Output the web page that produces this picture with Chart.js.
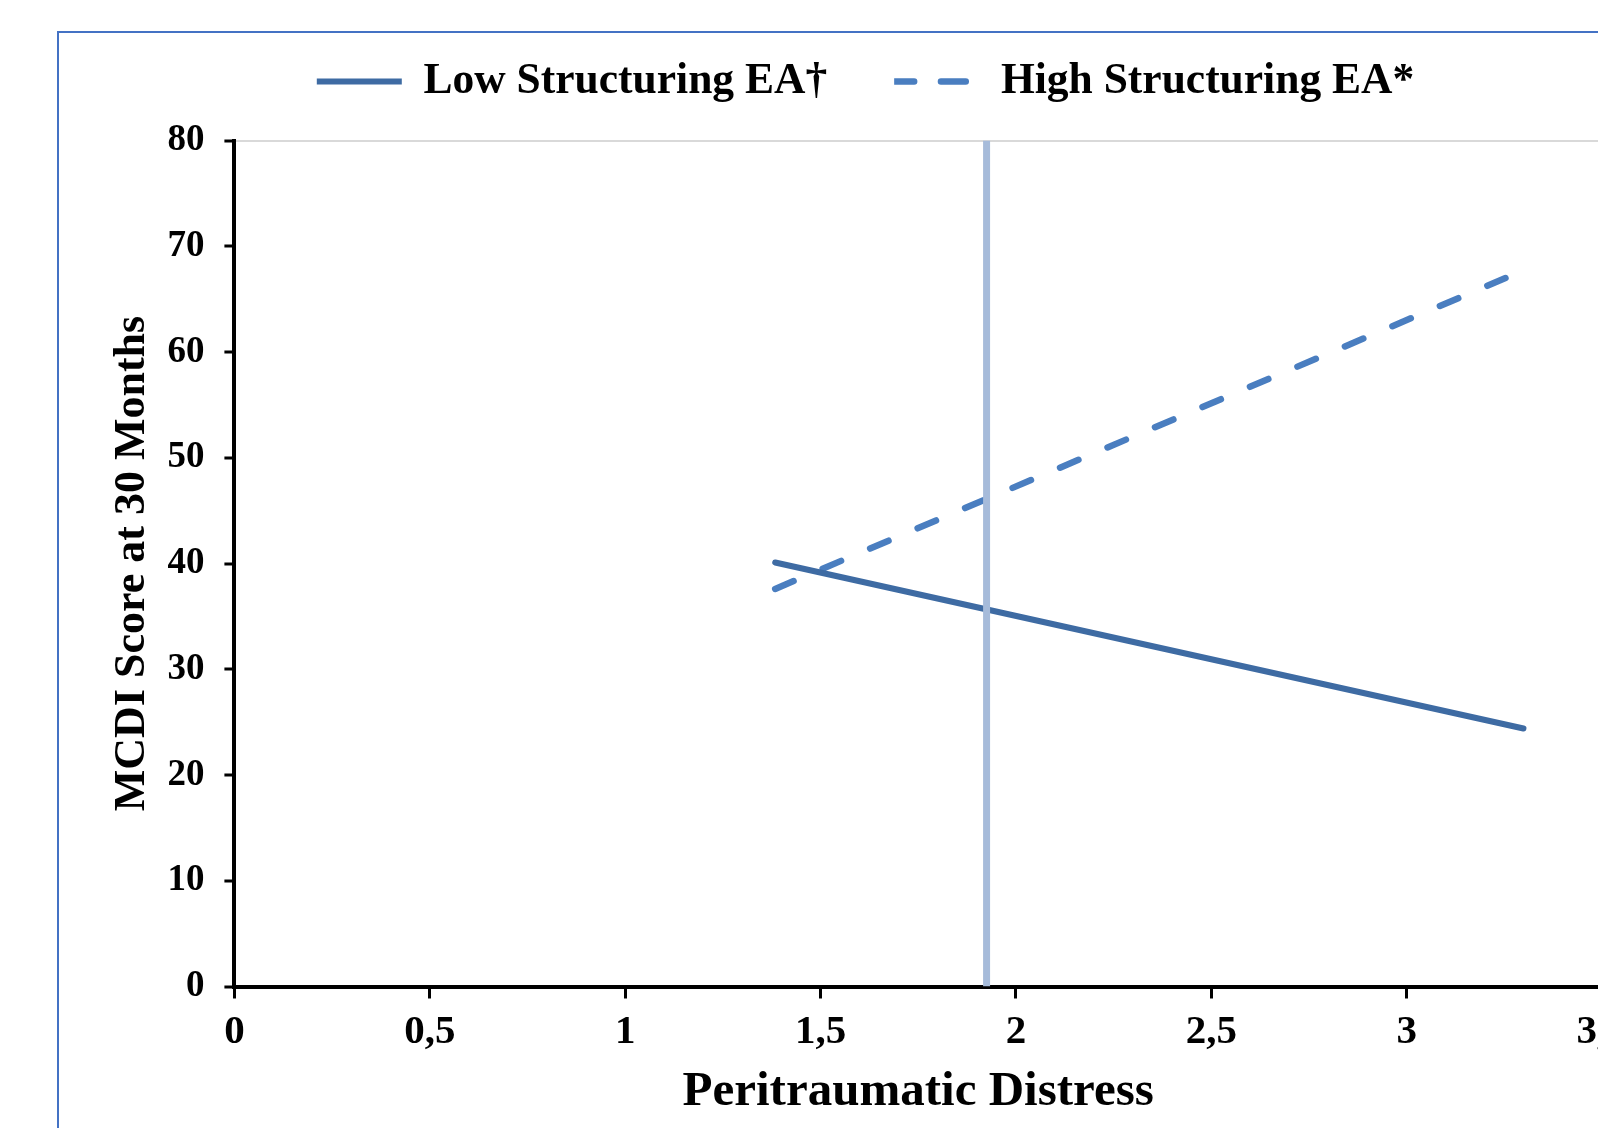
<!DOCTYPE html>
<html>
<head>
<meta charset="utf-8">
<script src="https://cdn.jsdelivr.net/npm/chart.js@4.4.1/dist/chart.umd.min.js"></script>
<style>
  html, body { margin: 0; padding: 0; background: #fff; overflow: hidden; }
  #frame {
    position: absolute; left: 57px; top: 31px;
    width: 1700px; height: 1200px;
    border: 2px solid #4472C4;
  }
  /* canvas starts 40px above the page so the legend can sit higher than its padding allows */
  #chartBox { position: absolute; left: 0; top: -40px; width: 1731px; height: 1168px; }
</style>
</head>
<body>
<div id="frame"></div>
<div id="chartBox"><canvas id="myChart" width="1731" height="1168"></canvas></div>
<script>
// chart values
const seriesNames = ["Low Structuring EA\u2020", "High Structuring EA*"];
const lowX = [1.384, 3.299];
const lowY = [40.1, 24.4];
const highX = [1.384, 3.253];
const highY = [37.6, 67.0];
const cutX = [1.925, 1.925];   // vertical marker line
const cutY = [0, 80];
const xTickVals = [0, 0.5, 1, 1.5, 2, 2.5, 3, 3.5];
const xTickLabels = ["0", "0,5", "1", "1,5", "2", "2,5", "3", "3,5"];
const yTickVals = [0, 10, 20, 30, 40, 50, 60, 70, 80];

const serif = "'Liberation Serif', 'Times New Roman', serif";

function points(xs, ys) {
    return xs.map((x, i) => ({ x: x, y: ys[i] }));
}

// scale that only takes up room in the layout
function spacer(position, size) {
    return {
        type: "linear",
        position: position,
        display: true,
        grid: { display: false },
        border: { display: false },
        ticks: { display: false },
        afterFit: (s) => {
            if (position === "top") s.height = size;
            else s.width = size;
        }
    };
}

function init() {
    const canvas = document.getElementById("myChart");

    new Chart(canvas, {
        type: "line",
        data: {
            datasets: [
                {
                    label: seriesNames[0],
                    data: points(lowX, lowY),
                    borderColor: "#3E6BA3",
                    backgroundColor: "#3E6BA3",
                    borderWidth: 6,
                    borderCapStyle: "round",
                    pointRadius: 0,
                    order: 1
                },
                {
                    label: seriesNames[1],
                    data: points(highX, highY),
                    borderColor: "#4A7EC0",
                    backgroundColor: "#4A7EC0",
                    borderWidth: 6.5,
                    borderDash: [20, 31.6],
                    borderCapStyle: "round",
                    pointRadius: 0,
                    order: 2
                },
                {
                    label: "cut",
                    data: points(cutX, cutY),
                    borderColor: "#A6BBDA",
                    borderWidth: 7,
                    pointRadius: 0,
                    order: 0
                }
            ]
        },
        options: {
            responsive: false,
            animation: false,
            layout: { padding: { top: 32.75, left: 0, right: 0, bottom: 0 } },
            plugins: {
                tooltip: { enabled: false },
                legend: {
                    position: "top",
                    labels: {
                        boxWidth: 85,
                        boxHeight: 0,
                        padding: 67,
                        color: "#000",
                        font: { family: serif, size: 43.5, weight: "bold" },
                        filter: (item) => item.text !== "cut"
                    }
                }
            },
            scales: {
                x: {
                    type: "linear",
                    min: 0,
                    max: 3.5,
                    afterBuildTicks: (s) => { s.ticks = xTickVals.map(v => ({ value: v })); },
                    afterFit: (s) => { s.height = 141.5; },
                    border: { display: true, color: "#000", width: 4 },
                    grid: { drawOnChartArea: false, tickLength: 12, tickColor: "#000", tickWidth: 3 },
                    ticks: {
                        color: "#000",
                        padding: 9,
                        maxRotation: 0,
                        autoSkip: false,
                        font: { family: serif, size: 41, weight: "bold" },
                        callback: (v) => xTickLabels[xTickVals.indexOf(v)]
                    },
                    title: {
                        display: true,
                        text: "Peritraumatic Distress",
                        color: "#000",
                        padding: { top: 0, bottom: 6 },
                        font: { family: serif, size: 49, weight: "bold" }
                    }
                },
                y: {
                    type: "linear",
                    min: 0,
                    max: 80,
                    afterBuildTicks: (s) => { s.ticks = yTickVals.map(v => ({ value: v })); },
                    afterFit: (s) => { s.width = 234.4; },
                    border: { display: true, color: "#000", width: 4 },
                    grid: {
                        drawOnChartArea: true,
                        color: (c) => (c.tick && c.tick.value === 80 ? "#D9D9D9" : "rgba(0,0,0,0)"),
                        lineWidth: 2,
                        tickLength: 10,
                        tickColor: "#000",
                        tickWidth: 3
                    },
                    ticks: {
                        color: "#000",
                        padding: 20,
                        font: { family: serif, size: 37, weight: "bold" }
                    },
                    title: {
                        display: true,
                        text: "MCDI Score at 30 Months",
                        color: "#000",
                        padding: { top: 106, bottom: 0 },
                        font: { family: serif, size: 44, weight: "bold" }
                    }
                },
                padTop: spacer("top", 27.35),
                padRight: spacer("right", 129)
            }
        }
    });
}

document.addEventListener("DOMContentLoaded", init);
</script>
</body>
</html>
